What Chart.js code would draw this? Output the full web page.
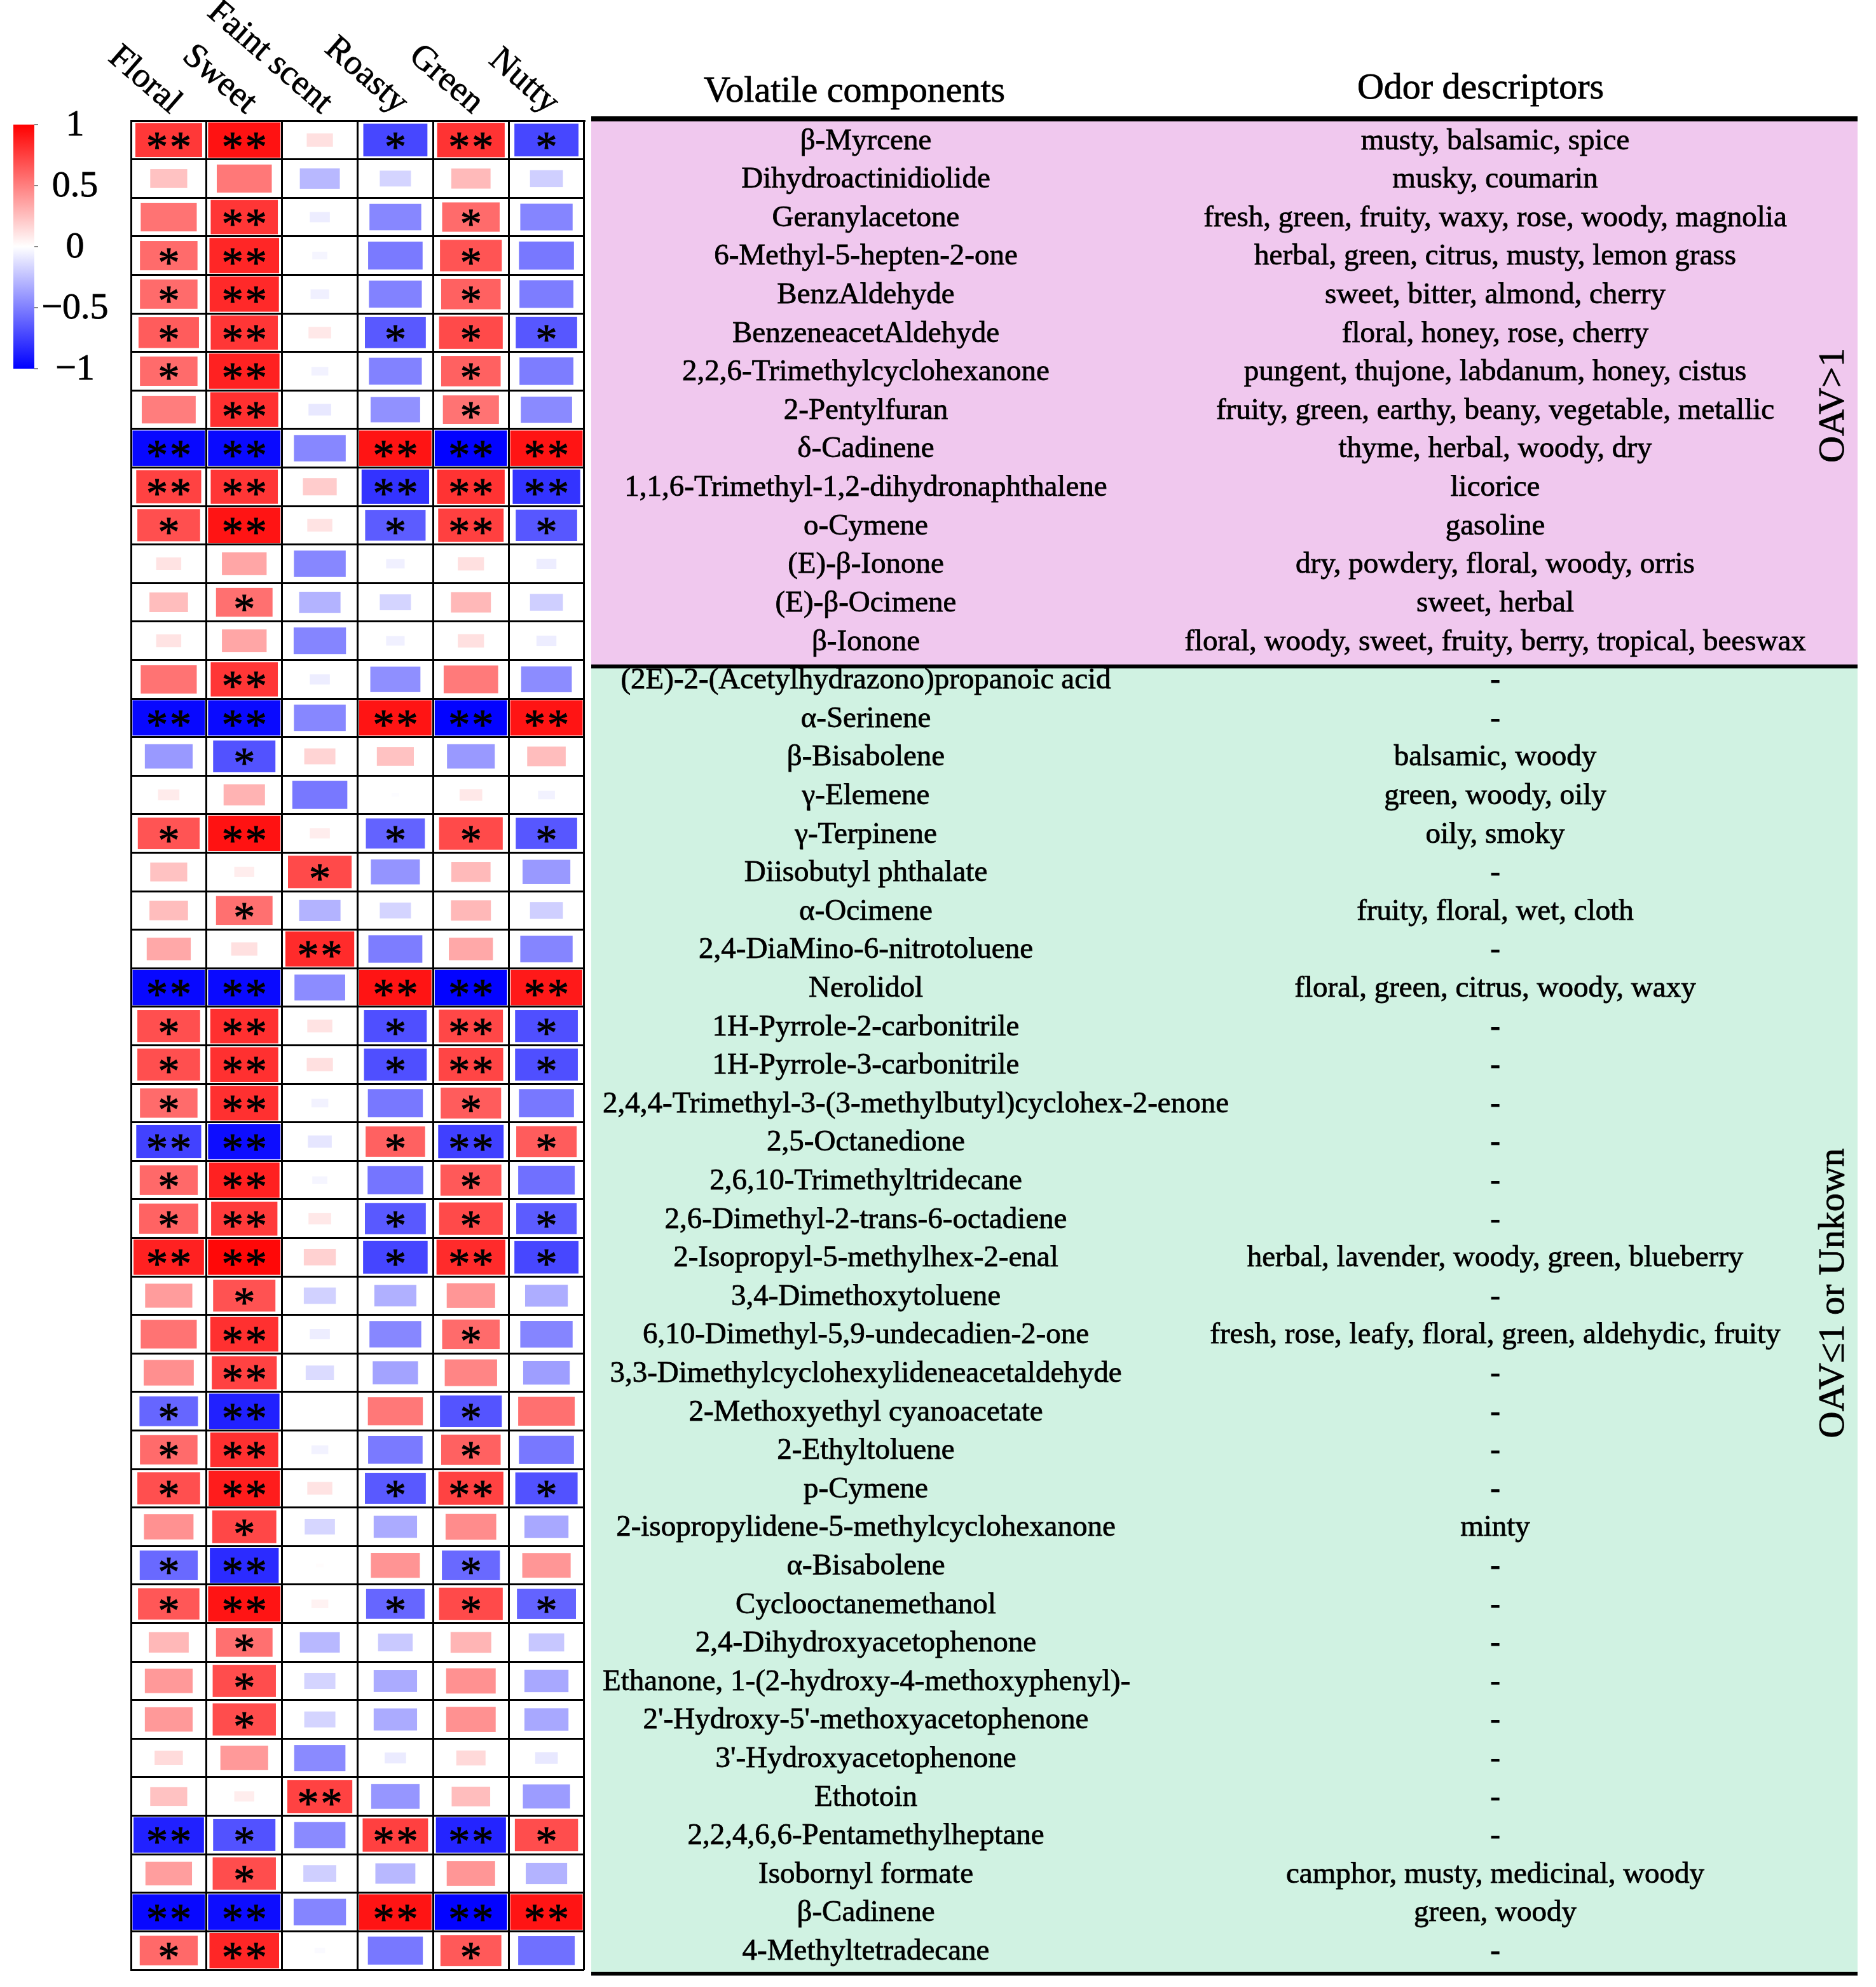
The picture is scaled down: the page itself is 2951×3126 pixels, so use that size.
<!DOCTYPE html>
<html>
<head>
<meta charset="utf-8">
<script src="https://cdn.jsdelivr.net/npm/chart.js@4.4.1/dist/chart.umd.min.js"></script>
<style>
html, body { margin: 0; padding: 0; background: #fff; overflow: hidden; }
canvas { display: block; }
</style>
</head>
<body>
<canvas id="chart" width="2951" height="3126"></canvas>
<script>
const odors = ['Floral', 'Sweet', 'Faint scent', 'Roasty', 'Green', 'Nutty'];

const components = [
    'β-Myrcene', 'Dihydroactinidiolide', 'Geranylacetone', '6-Methyl-5-hepten-2-one', 'BenzAldehyde',
    'BenzeneacetAldehyde', '2,2,6-Trimethylcyclohexanone', '2-Pentylfuran', 'δ-Cadinene',
    '1,1,6-Trimethyl-1,2-dihydronaphthalene', 'o-Cymene', '(E)-β-Ionone', '(E)-β-Ocimene', 'β-Ionone',
    '(2E)-2-(Acetylhydrazono)propanoic acid', 'α-Serinene', 'β-Bisabolene', 'γ-Elemene', 'γ-Terpinene',
    'Diisobutyl phthalate', 'α-Ocimene', '2,4-DiaMino-6-nitrotoluene', 'Nerolidol',
    '1H-Pyrrole-2-carbonitrile', '1H-Pyrrole-3-carbonitrile',
    '2,4,4-Trimethyl-3-(3-methylbutyl)cyclohex-2-enone', '2,5-Octanedione', '2,6,10-Trimethyltridecane',
    '2,6-Dimethyl-2-trans-6-octadiene', '2-Isopropyl-5-methylhex-2-enal', '3,4-Dimethoxytoluene',
    '6,10-Dimethyl-5,9-undecadien-2-one', '3,3-Dimethylcyclohexylideneacetaldehyde',
    '2-Methoxyethyl cyanoacetate', '2-Ethyltoluene', 'p-Cymene', '2-isopropylidene-5-methylcyclohexanone',
    'α-Bisabolene', 'Cyclooctanemethanol', '2,4-Dihydroxyacetophenone',
    'Ethanone, 1-(2-hydroxy-4-methoxyphenyl)-', "2'-Hydroxy-5'-methoxyacetophenone",
    "3'-Hydroxyacetophenone", 'Ethotoin', '2,2,4,6,6-Pentamethylheptane', 'Isobornyl formate',
    'β-Cadinene', '4-Methyltetradecane'
];

const descriptors = [
    'musty, balsamic, spice', 'musky, coumarin', 'fresh, green, fruity, waxy, rose, woody, magnolia',
    'herbal, green, citrus, musty, lemon grass', 'sweet, bitter, almond, cherry', 'floral, honey, rose, cherry',
    'pungent, thujone, labdanum, honey, cistus', 'fruity, green, earthy, beany, vegetable, metallic',
    'thyme, herbal, woody, dry', 'licorice', 'gasoline', 'dry, powdery, floral, woody, orris', 'sweet, herbal',
    'floral, woody, sweet, fruity, berry, tropical, beeswax',
    '-', '-', 'balsamic, woody', 'green, woody, oily', 'oily, smoky', '-', 'fruity, floral, wet, cloth', '-',
    'floral, green, citrus, woody, waxy', '-', '-', '-', '-', '-', '-',
    'herbal, lavender, woody, green, blueberry', '-',
    'fresh, rose, leafy, floral, green, aldehydic, fruity', '-', '-', '-', '-', 'minty', '-', '-', '-', '-',
    '-', '-', '-', '-', 'camphor, musty, medicinal, woody', 'green, woody', '-'
];

const groupLabels = ['OAV>1', 'OAV≤1 or Unkown'];
const groupSizes = [14, 34];

// correlation of each component with each odor attribute
const floral = [0.78, 0.24, 0.55, 0.58, 0.58, 0.64, 0.58, 0.51, -0.97, 0.74, 0.69, 0.11, 0.26, 0.11, 0.55, -0.97, -0.40, 0.08, 0.67, 0.24, 0.26, 0.34, -0.97, 0.69, 0.69, 0.58, -0.74, 0.59, 0.61, 0.87, 0.39, 0.55, 0.44, -0.60, 0.58, 0.69, 0.43, -0.59, 0.66, 0.28, 0.40, 0.40, 0.14, 0.24, -0.87, 0.38, -0.97, 0.59];
const sweet = [0.93, 0.53, 0.79, 0.85, 0.84, 0.79, 0.87, 0.81, -0.96, 0.79, 0.92, 0.35, 0.56, 0.35, 0.79, -0.96, -0.68, 0.30, 0.93, 0.07, 0.56, 0.12, -0.96, 0.81, 0.81, 0.81, -0.95, 0.87, 0.77, 0.97, 0.68, 0.81, 0.74, -0.87, 0.81, 0.89, 0.72, -0.83, 0.92, 0.56, 0.70, 0.70, 0.40, 0.07, -0.68, 0.70, -0.95, 0.85];
const faint = [0.12, -0.28, -0.07, -0.04, -0.06, 0.09, -0.05, -0.09, -0.47, 0.20, 0.11, -0.47, -0.30, -0.48, -0.07, -0.47, 0.17, -0.53, 0.07, 0.71, -0.30, 0.83, -0.45, 0.11, 0.12, -0.05, -0.10, -0.04, 0.09, 0.18, -0.18, -0.07, -0.14, 0.00, -0.05, 0.11, -0.16, 0.01, 0.05, -0.28, -0.17, -0.17, -0.46, 0.74, -0.46, -0.19, -0.48, -0.02];
const roasty = [-0.72, -0.17, -0.47, -0.52, -0.49, -0.65, -0.49, -0.43, 0.92, -0.80, -0.64, -0.06, -0.17, -0.06, -0.44, 0.92, 0.24, -0.01, -0.61, -0.42, -0.17, -0.51, 0.92, -0.69, -0.69, -0.53, 0.62, -0.54, -0.65, -0.73, -0.31, -0.47, -0.36, 0.53, -0.52, -0.65, -0.33, 0.42, -0.60, -0.21, -0.33, -0.33, -0.08, -0.41, 0.75, -0.28, 0.92, -0.53];
const green = [0.80, 0.27, 0.58, 0.67, 0.62, 0.71, 0.62, 0.55, -0.99, 0.80, 0.75, 0.12, 0.28, 0.12, 0.52, -0.99, -0.40, 0.09, 0.71, 0.27, 0.28, 0.34, -0.99, 0.72, 0.73, 0.64, -0.75, 0.65, 0.71, 0.83, 0.41, 0.58, 0.48, -0.67, 0.62, 0.74, 0.45, -0.59, 0.71, 0.29, 0.43, 0.43, 0.15, 0.26, -0.86, 0.41, -0.99, 0.65];
const nutty = [-0.72, -0.19, -0.48, -0.53, -0.51, -0.66, -0.51, -0.46, 0.92, -0.80, -0.66, -0.07, -0.19, -0.07, -0.45, 0.92, 0.26, -0.05, -0.66, -0.40, -0.19, -0.48, 0.90, -0.69, -0.69, -0.53, 0.64, -0.56, -0.64, -0.72, -0.32, -0.48, -0.38, 0.56, -0.53, -0.68, -0.34, 0.41, -0.61, -0.22, -0.34, -0.34, -0.09, -0.39, 0.70, -0.30, 0.92, -0.56];

// significance: 1 = *, 2 = **
const floralSig = [2, 0, 0, 1, 1, 1, 1, 0, 2, 2, 1, 0, 0, 0, 0, 2, 0, 0, 1, 0, 0, 0, 2, 1, 1, 1, 2, 1, 1, 2, 0, 0, 0, 1, 1, 1, 0, 1, 1, 0, 0, 0, 0, 0, 2, 0, 2, 1];
const sweetSig = [2, 0, 2, 2, 2, 2, 2, 2, 2, 2, 2, 0, 1, 0, 2, 2, 1, 0, 2, 0, 1, 0, 2, 2, 2, 2, 2, 2, 2, 2, 1, 2, 2, 2, 2, 2, 1, 2, 2, 1, 1, 1, 0, 0, 1, 1, 2, 2];
const faintSig = [0, 0, 0, 0, 0, 0, 0, 0, 0, 0, 0, 0, 0, 0, 0, 0, 0, 0, 0, 1, 0, 2, 0, 0, 0, 0, 0, 0, 0, 0, 0, 0, 0, 0, 0, 0, 0, 0, 0, 0, 0, 0, 0, 2, 0, 0, 0, 0];
const roastySig = [1, 0, 0, 0, 0, 1, 0, 0, 2, 2, 1, 0, 0, 0, 0, 2, 0, 0, 1, 0, 0, 0, 2, 1, 1, 0, 1, 0, 1, 1, 0, 0, 0, 0, 0, 1, 0, 0, 1, 0, 0, 0, 0, 0, 2, 0, 2, 0];
const greenSig = [2, 0, 1, 1, 1, 1, 1, 1, 2, 2, 2, 0, 0, 0, 0, 2, 0, 0, 1, 0, 0, 0, 2, 2, 2, 1, 2, 1, 1, 2, 0, 1, 0, 1, 1, 2, 0, 1, 1, 0, 0, 0, 0, 0, 2, 0, 2, 1];
const nuttySig = [1, 0, 0, 0, 0, 1, 0, 0, 2, 2, 1, 0, 0, 0, 0, 2, 0, 0, 1, 0, 0, 0, 2, 1, 1, 0, 1, 0, 1, 1, 0, 0, 0, 0, 0, 1, 0, 0, 1, 0, 0, 0, 0, 0, 1, 0, 2, 0];

const legendTicks = [1, 0.5, 0, -0.5, -1];

const values = [floral, sweet, faint, roasty, green, nutty];
const sigs = [floralSig, sweetSig, faintSig, roastySig, greenSig, nuttySig];

const SERIF = "'Liberation Serif', serif";

function corrColor(v) {
    const t = Math.min(1, Math.abs(v));
    const c = Math.round(255 * (1 - t));
    return v >= 0 ? `rgb(255,${c},${c})` : `rgb(${c},${c},255)`;
}

// slightly heavier text, the source figure is rendered quite dark
function darkText(ctx, txt, x, y) {
    ctx.fillText(txt, x, y);
    ctx.strokeText(txt, x, y);
}

// rectangles + stars in each cell
const cellPlugin = {
    id: 'cells',
    afterDatasetsDraw(chart) {
        const ctx = chart.ctx;
        const xs = chart.scales.x, ys = chart.scales.y;
        const cw = xs.getPixelForValue(1) - xs.getPixelForValue(0);
        const ch = ys.getPixelForValue(1) - ys.getPixelForValue(0);
        ctx.save();
        ctx.font = '68px ' + SERIF;
        ctx.textAlign = 'center';
        ctx.textBaseline = 'alphabetic';
        ctx.strokeStyle = '#000';
        ctx.lineWidth = 1;
        const m = ctx.measureText('*');
        const starOff = (m.actualBoundingBoxAscent - m.actualBoundingBoxDescent) / 2;
        chart.data.datasets.forEach((ds, di) => {
            const meta = chart.getDatasetMeta(di);
            meta.data.forEach((pt, i) => {
                const d = ds.data[i];
                const s = Math.sqrt(Math.abs(d.v));
                const w = Math.min(cw * s, cw - 5);
                const h = Math.min(ch * s, ch - 5);
                ctx.fillStyle = corrColor(d.v);
                ctx.fillRect(pt.x - w / 2, pt.y - h / 2, w, h);
                if (d.sig > 0) {
                    ctx.fillStyle = '#000';
                    for (let k = 0; k < d.sig; k++) {
                        const dx = (k - (d.sig - 1) / 2) * 37;
                        darkText(ctx, '*', pt.x + dx, pt.y + starOff + 1);
                    }
                }
            });
        });
        ctx.restore();
    }
};

// column labels, colour bar and the descriptor table
const decorPlugin = {
    id: 'decor',
    afterDraw(chart) {
        const ctx = chart.ctx;
        const xs = chart.scales.x, ys = chart.scales.y;
        const area = chart.chartArea;
        ctx.save();
        ctx.fillStyle = '#000';
        ctx.strokeStyle = '#000';
        ctx.lineWidth = 0.8;

        // rotated odor names
        ctx.font = '55px ' + SERIF;
        ctx.textAlign = 'right';
        ctx.textBaseline = 'alphabetic';
        odors.forEach((name, i) => {
            ctx.save();
            ctx.translate(xs.getPixelForValue(i) + 2, area.top - 10);
            ctx.rotate(41 * Math.PI / 180);
            darkText(ctx, name, 0, 0);
            ctx.restore();
        });

        // colour bar
        const cbTop = area.top + 6, cbBot = area.top + 390, cbL = 21, cbR = 54;
        const grad = ctx.createLinearGradient(0, cbTop, 0, cbBot);
        grad.addColorStop(0, corrColor(1));
        grad.addColorStop(0.5, '#ffffff');
        grad.addColorStop(1, corrColor(-1));
        ctx.fillStyle = grad;
        ctx.fillRect(cbL, cbTop, cbR - cbL, cbBot - cbTop);
        ctx.strokeStyle = '#888';
        ctx.lineWidth = 2;
        legendTicks.forEach(t => {
            const y = cbTop + (1 - t) / 2 * (cbBot - cbTop);
            ctx.beginPath();
            ctx.moveTo(cbR, y);
            ctx.lineTo(cbR + 6, y);
            ctx.stroke();
        });
        ctx.strokeStyle = '#000';
        ctx.lineWidth = 0.8;
        ctx.font = '58px ' + SERIF;
        ctx.textAlign = 'center';
        ctx.textBaseline = 'middle';
        ctx.fillStyle = '#000';
        legendTicks.forEach(t => {
            const y = cbTop + (1 - t) / 2 * (cbBot - cbTop);
            const label = t < 0 ? '\u2212' + Math.abs(t) : String(t);
            darkText(ctx, label, 118, y + 2);
        });

        // table
        const tL = 930, tR = 2922;
        const half = (ys.getPixelForValue(1) - ys.getPixelForValue(0)) / 2;
        const sepY = ys.getPixelForValue(groupSizes[0]) - half + 10;
        const botY = area.bottom + 6;
        ctx.fillStyle = '#f0c8ee';
        ctx.fillRect(tL, area.top - 2, tR - tL, sepY - area.top + 2);
        ctx.fillStyle = '#d0f2e2';
        ctx.fillRect(tL, sepY, tR - tL, botY - sepY);
        ctx.fillStyle = '#000';
        ctx.fillRect(tL, area.top - 7, tR - tL, 8);
        ctx.fillRect(tL, sepY - 3, tR - tL, 6);
        ctx.fillRect(tL, botY - 3, tR - tL, 6);

        ctx.font = '58px ' + SERIF;
        ctx.textAlign = 'center';
        ctx.textBaseline = 'alphabetic';
        darkText(ctx, 'Volatile components', 1344, area.top - 30);
        darkText(ctx, 'Odor descriptors', 2329, area.top - 35);

        ctx.font = '47px ' + SERIF;
        ctx.textBaseline = 'middle';
        components.forEach((name, i) => {
            const y = ys.getPixelForValue(i) + 2;
            const w = ctx.measureText(name).width;
            const cx = Math.max(1362, tL + 18 + w / 2);
            darkText(ctx, name, cx, y);
            darkText(ctx, descriptors[i], 2352, y);
        });

        // group labels, rotated
        ctx.font = '58px ' + SERIF;
        const groupY = [area.top + 448, sepY + 986];
        groupLabels.forEach((g, i) => {
            ctx.save();
            ctx.translate(2885, groupY[i]);
            ctx.rotate(-Math.PI / 2);
            darkText(ctx, g, 0, 0);
            ctx.restore();
        });
        ctx.restore();
    }
};

function makeChart() {
    const datasets = odors.map((name, c) => ({
        label: name,
        data: components.map((comp, r) => ({ x: name, y: comp, v: values[c][r], sig: sigs[c][r] })),
        pointRadius: 0,
        pointHoverRadius: 0
    }));

    const ctx = document.getElementById('chart').getContext('2d');
    const myChart = new Chart(ctx, {
        type: 'scatter',
        data: { datasets: datasets },
        options: {
            responsive: false,
            devicePixelRatio: 1,
            animation: false,
            layout: { padding: { left: 206, top: 190, right: 2032, bottom: 27 } },
            plugins: { legend: { display: false }, tooltip: { enabled: false } },
            scales: {
                x: {
                    type: 'category',
                    labels: odors,
                    position: 'top',
                    offset: true,
                    grid: { offset: true, color: '#000', lineWidth: 3, drawTicks: false },
                    border: { display: true, color: '#000', width: 3 },
                    ticks: { display: false }
                },
                y: {
                    type: 'category',
                    labels: components,
                    offset: true,
                    grid: { offset: true, color: '#000', lineWidth: 3, drawTicks: false },
                    border: { display: true, color: '#000', width: 3 },
                    ticks: { display: false }
                }
            }
        },
        plugins: [cellPlugin, decorPlugin]
    });
}

document.fonts.load("47px 'Liberation Serif'").then(makeChart, makeChart);
</script>
</body>
</html>
